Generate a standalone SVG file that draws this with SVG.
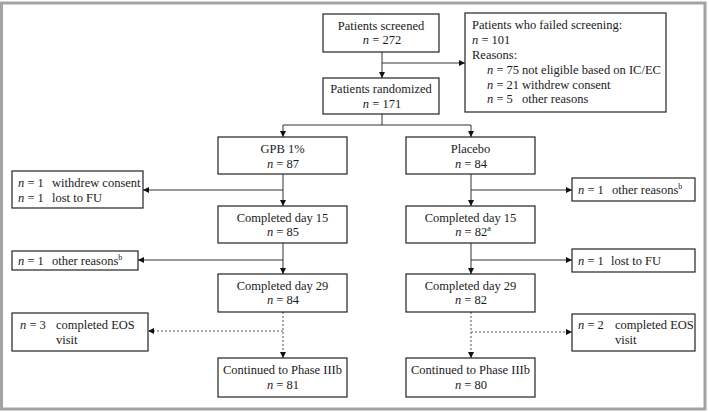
<svg xmlns="http://www.w3.org/2000/svg" width="709" height="412" viewBox="0 0 709 412">
<style>
text{font-family:'Liberation Serif','Tinos','Times New Roman','DejaVu Serif',serif;font-size:12.5px;fill:#1a1a1a}
.c{text-anchor:middle}
.i{font-style:italic}
.box{fill:#fff;stroke:#222;stroke-width:1.2}
.ln{fill:none;stroke:#333;stroke-width:1}
.dash{fill:none;stroke:#555;stroke-width:1;stroke-dasharray:2,2}
.sup{font-size:8px}
</style>
<defs>
<marker id="ah" markerWidth="7" markerHeight="7" refX="6" refY="3" orient="auto" markerUnits="userSpaceOnUse">
<path d="M0,0 L6,3 L0,6 z" fill="#111"/>
</marker>
</defs>
<rect x="1.5" y="3" width="703.5" height="406" fill="#fff" stroke="#a3a3a3" stroke-width="3"/>

<g id="connectors">
<line class="ln" x1="382" y1="52" x2="382" y2="78" marker-end="url(#ah)"/>
<line class="ln" x1="382" y1="63" x2="465" y2="63" marker-end="url(#ah)"/>
<polyline class="ln" points="382,114 382,125"/>
<polyline class="ln" points="283,125 471,125"/>
<line class="ln" x1="283" y1="125" x2="283" y2="137" marker-end="url(#ah)"/>
<line class="ln" x1="471" y1="125" x2="471" y2="137" marker-end="url(#ah)"/>
<line class="ln" x1="283" y1="174" x2="283" y2="206" marker-end="url(#ah)"/>
<line class="ln" x1="283" y1="190" x2="143" y2="190" marker-end="url(#ah)"/>
<line class="ln" x1="283" y1="243" x2="283" y2="274" marker-end="url(#ah)"/>
<line class="ln" x1="283" y1="260" x2="138" y2="260" marker-end="url(#ah)"/>
<line class="dash" x1="283" y1="312" x2="283" y2="358" marker-end="url(#ah)"/>
<line class="dash" x1="283" y1="331" x2="148" y2="331" marker-end="url(#ah)"/>
<line class="ln" x1="471" y1="174" x2="471" y2="206" marker-end="url(#ah)"/>
<line class="ln" x1="471" y1="190" x2="572" y2="190" marker-end="url(#ah)"/>
<line class="ln" x1="471" y1="243" x2="471" y2="274" marker-end="url(#ah)"/>
<line class="ln" x1="471" y1="260" x2="572" y2="260" marker-end="url(#ah)"/>
<line class="dash" x1="471" y1="312" x2="471" y2="358" marker-end="url(#ah)"/>
<line class="dash" x1="471" y1="332" x2="572" y2="332" marker-end="url(#ah)"/>
</g>

<g id="screened">
<rect class="box" x="323" y="14" width="116" height="38"/>
<text class="c" x="381" y="29.5">Patients screened</text>
<text class="c" x="382" y="44"><tspan class="i">n</tspan> = 272</text>
</g>

<g id="failed">
<rect class="box" x="465" y="13" width="201" height="99"/>
<text x="472" y="29">Patients who failed screening:</text>
<text x="472" y="44"><tspan class="i">n</tspan> = 101</text>
<text x="472" y="59">Reasons:</text>
<text x="487" y="74"><tspan class="i">n</tspan> = 75<tspan x="522">not eligible based on IC/EC</tspan></text>
<text x="487" y="88.5"><tspan class="i">n</tspan> = 21<tspan x="522">withdrew consent</tspan></text>
<text x="487" y="103"><tspan class="i">n</tspan> = 5<tspan x="522">other reasons</tspan></text>
</g>

<g id="randomized">
<rect class="box" x="323" y="78" width="116" height="36"/>
<text class="c" x="381" y="93">Patients randomized</text>
<text class="c" x="382" y="108"><tspan class="i">n</tspan> = 171</text>
</g>

<g id="gpb">
<rect class="box" x="218" y="137" width="129" height="37"/>
<text class="c" x="282.5" y="153">GPB 1%</text>
<text class="c" x="283" y="167.5"><tspan class="i">n</tspan> = 87</text>
</g>

<g id="placebo">
<rect class="box" x="406" y="137" width="129" height="37"/>
<text class="c" x="470.5" y="153">Placebo</text>
<text class="c" x="471" y="167.5"><tspan class="i">n</tspan> = 84</text>
</g>

<g id="gpb-disc1">
<rect class="box" x="12" y="171" width="131" height="37"/>
<text x="18" y="187"><tspan class="i">n</tspan> = 1<tspan x="52">withdrew consent</tspan></text>
<text x="18" y="202"><tspan class="i">n</tspan> = 1<tspan x="52">lost to FU</tspan></text>
</g>

<g id="pla-disc1">
<rect class="box" x="572" y="178" width="123" height="23"/>
<text x="578" y="194"><tspan class="i">n</tspan> = 1<tspan x="612">other reasons</tspan><tspan class="sup" dy="-5">b</tspan></text>
</g>

<g id="gpb-d15">
<rect class="box" x="218" y="206" width="129" height="37"/>
<text class="c" x="282.5" y="221.5">Completed day 15</text>
<text class="c" x="283" y="236"><tspan class="i">n</tspan> = 85</text>
</g>

<g id="pla-d15">
<rect class="box" x="406" y="206" width="129" height="37"/>
<text class="c" x="470.5" y="221.5">Completed day 15</text>
<text class="c" x="473" y="236"><tspan class="i">n</tspan> = 82<tspan class="sup" dy="-5">a</tspan></text>
</g>

<g id="gpb-disc2">
<rect class="box" x="12" y="251" width="126" height="19"/>
<text x="18" y="264.5"><tspan class="i">n</tspan> = 1<tspan x="52">other reasons</tspan><tspan class="sup" dy="-5">b</tspan></text>
</g>

<g id="pla-disc2">
<rect class="box" x="572" y="249" width="123" height="23"/>
<text x="578" y="265"><tspan class="i">n</tspan> = 1<tspan x="611">lost to FU</tspan></text>
</g>

<g id="gpb-d29">
<rect class="box" x="218" y="274" width="129" height="38"/>
<text class="c" x="282.5" y="289.5">Completed day 29</text>
<text class="c" x="283" y="304"><tspan class="i">n</tspan> = 84</text>
</g>

<g id="pla-d29">
<rect class="box" x="406" y="274" width="129" height="38"/>
<text class="c" x="470.5" y="289.5">Completed day 29</text>
<text class="c" x="471" y="304"><tspan class="i">n</tspan> = 82</text>
</g>

<g id="gpb-eos">
<rect class="box" x="12" y="313" width="136" height="38"/>
<text x="20" y="328.5"><tspan class="i">n</tspan> = 3<tspan x="56">completed EOS</tspan></text>
<text x="56" y="343.5">visit</text>
</g>

<g id="pla-eos">
<rect class="box" x="572" y="314" width="123" height="37"/>
<text x="578" y="329"><tspan class="i">n</tspan> = 2<tspan x="615">completed EOS</tspan></text>
<text x="615" y="344">visit</text>
</g>

<g id="gpb-cont">
<rect class="box" x="218" y="358" width="129" height="39"/>
<text class="c" x="282.5" y="373.5">Continued to Phase IIIb</text>
<text class="c" x="283" y="388.5"><tspan class="i">n</tspan> = 81</text>
</g>

<g id="pla-cont">
<rect class="box" x="406" y="358" width="129" height="39"/>
<text class="c" x="470.5" y="373.5">Continued to Phase IIIb</text>
<text class="c" x="471" y="388.5"><tspan class="i">n</tspan> = 80</text>
</g>
</svg>
